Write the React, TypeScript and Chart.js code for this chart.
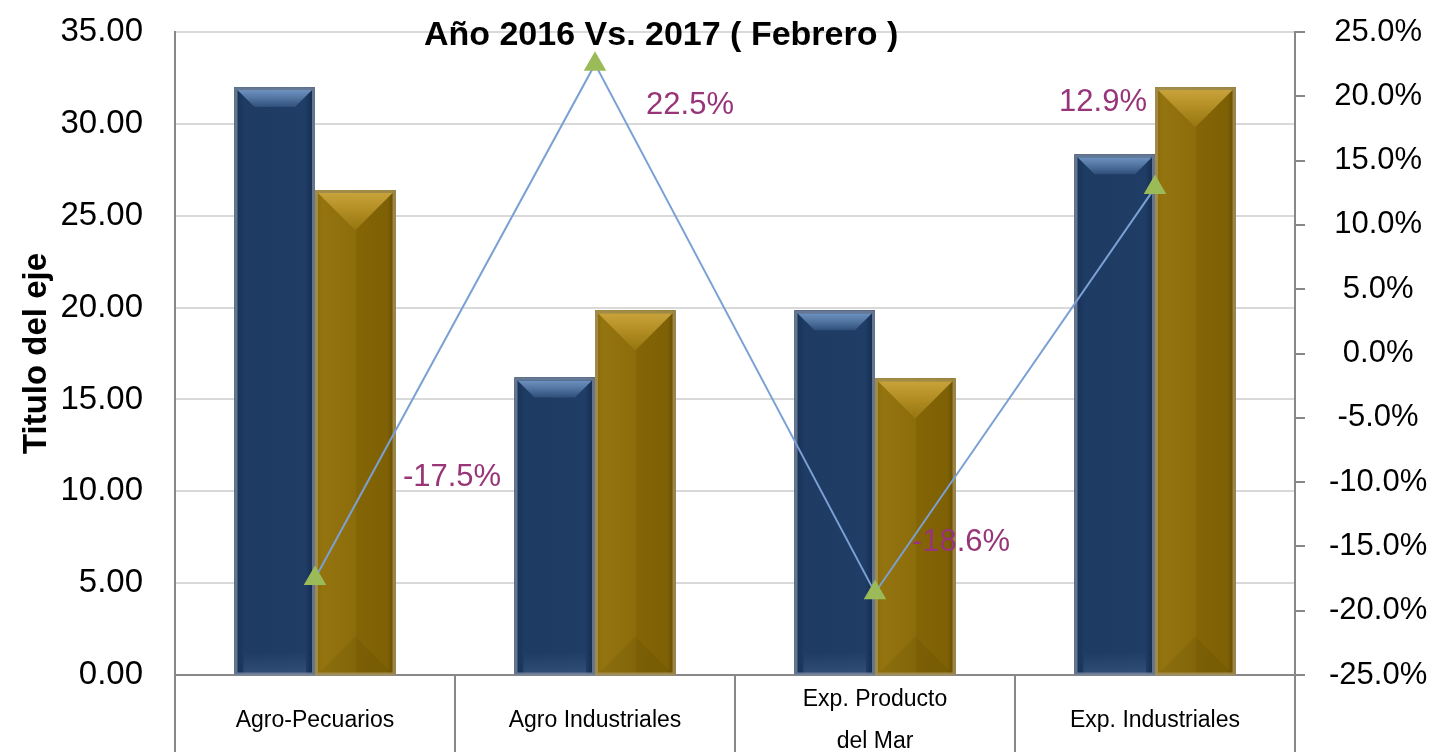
import React, { useEffect, useRef } from "react";
import { Chart, registerables } from "chart.js";

Chart.register(...registerables);

const categories: (string | string[])[] = [
  "Agro-Pecuarios",
  "Agro Industriales",
  ["Exp. Producto", "del Mar"],
  "Exp. Industriales",
];
const values2016 = [32.0, 16.2, 19.85, 28.35];
const values2017 = [26.4, 19.85, 16.15, 32.0];
const variation = [-17.5, 22.5, -18.6, 12.9];
const variationLabels = ["-17.5%", "22.5%", "-18.6%", "12.9%"];
const titleText = "Año 2016 Vs. 2017 ( Febrero )";
const yTitle = "Titulo del eje";

// style: label offsets (px) from each point, like manually placed labels
const labelOffsets = [
  [137, -101],
  [95, 41],
  [86, -50],
  [-52, -85],
];

const FONT = "'Liberation Sans', Arial, sans-serif";

const bevelPlugin = {
  id: "bevel",
  afterDatasetDraw(chart: any, args: any) {
    const meta = args.meta;
    if (meta.type !== "bar") return;
    const ctx = chart.ctx as CanvasRenderingContext2D;
    const isBlue = meta.index === 1;
    ctx.save();
    meta.data.forEach((el: any) => {
      const { x, y, base, width } = el.getProps(["x", "y", "base", "width"], true);
      const l = x - width / 2;
      const r = x + width / 2;
      const t = y;
      const b = base;
      const h = b - t;
      const g = ctx.createLinearGradient(l, 0, r, 0);
      if (isBlue) {
        g.addColorStop(0, "#172f52");
        g.addColorStop(0.12, "#1e3b63");
        g.addColorStop(0.88, "#1f3d66");
        g.addColorStop(1, "#132746");
      } else {
        g.addColorStop(0, "#8a6b0a");
        g.addColorStop(0.1, "#93740f");
        g.addColorStop(0.5, "#8c6d0b");
        g.addColorStop(0.52, "#846506");
        g.addColorStop(0.9, "#7e6105");
        g.addColorStop(1, "#5f4803");
      }
      ctx.fillStyle = g;
      ctx.fillRect(l, t, width, h);
      const bw = 3;
      if (isBlue) {
        const bev = Math.min(17, h / 2);
        const vg = ctx.createLinearGradient(0, t + bw, 0, t + bw + bev);
        vg.addColorStop(0, "#6e92c1");
        vg.addColorStop(0.5, "#50739f");
        vg.addColorStop(1, "#2f4f7a");
        ctx.fillStyle = vg;
        ctx.beginPath();
        ctx.moveTo(l + bw, t + bw);
        ctx.lineTo(r - bw, t + bw);
        ctx.lineTo(r - bw - bev, t + bw + bev);
        ctx.lineTo(l + bw + bev, t + bw + bev);
        ctx.closePath();
        ctx.fill();
        const bg = ctx.createLinearGradient(0, b - 22, 0, b);
        bg.addColorStop(0, "rgba(80,110,150,0)");
        bg.addColorStop(1, "rgba(80,110,150,0.35)");
        ctx.fillStyle = bg;
        ctx.fillRect(l + bw + 6, b - 22, width - 2 * bw - 12, 22);
      } else {
        const dep = Math.min(width / 2 - bw, h / 2);
        const vg = ctx.createLinearGradient(0, t + bw, 0, t + bw + dep);
        vg.addColorStop(0, "#c8a33b");
        vg.addColorStop(0.5, "#b08c22");
        vg.addColorStop(1, "#967610");
        ctx.fillStyle = vg;
        ctx.beginPath();
        ctx.moveTo(l + bw, t + bw);
        ctx.lineTo(r - bw, t + bw);
        ctx.lineTo(x, t + bw + dep);
        ctx.closePath();
        ctx.fill();
        ctx.fillStyle = "rgba(60,45,0,0.1)";
        ctx.beginPath();
        ctx.moveTo(l + bw, b);
        ctx.lineTo(r - bw, b);
        ctx.lineTo(x, b - dep);
        ctx.closePath();
        ctx.fill();
      }
      ctx.lineWidth = 3;
      ctx.strokeStyle = isBlue ? "rgba(115,130,155,0.85)" : "rgba(165,145,85,0.85)";
      ctx.strokeRect(l + 1.5, t + 1.5, width - 3, h - 1.5);
    });
    ctx.restore();
  },
};

const textPlugin = {
  id: "texts",
  afterDraw(chart: any) {
    const ctx = chart.ctx as CanvasRenderingContext2D;
    const area = chart.chartArea;
    ctx.save();
    ctx.fillStyle = "#000";
    ctx.font = `bold 34px ${FONT}`;
    ctx.textAlign = "center";
    ctx.textBaseline = "middle";
    ctx.fillText(titleText, area.left + area.width * 0.434, 36);
    const meta = chart.getDatasetMeta(0);
    ctx.font = `31px ${FONT}`;
    ctx.fillStyle = "#983579";
    meta.data.forEach((pt: any, i: number) => {
      const [dx, dy] = labelOffsets[i];
      ctx.fillText(variationLabels[i], pt.x + dx, pt.y + dy);
    });
    ctx.restore();
  },
};

export default function App() {
  const ref = useRef<HTMLCanvasElement>(null);
  useEffect(() => {
    document.body.style.margin = "0";
    const chart = new Chart(ref.current as HTMLCanvasElement, {
      type: "bar",
      data: {
        labels: categories,
        datasets: [
          {
            type: "line",
            label: "Variación",
            data: variation,
            yAxisID: "y1",
            borderColor: "#7aa0d4",
            borderWidth: 2,
            pointStyle: "triangle",
            pointRadius: 13,
            pointBackgroundColor: "#9bbb59",
            pointBorderColor: "#9bbb59",
            pointBorderWidth: 0,
            tension: 0,
            order: 0,
          } as any,
          {
            label: "2016",
            data: values2016,
            backgroundColor: "#1f3d66",
            borderWidth: 0,
            yAxisID: "y",
            order: 1,
            categoryPercentage: 0.575,
            barPercentage: 1,
          },
          {
            label: "2017",
            data: values2017,
            backgroundColor: "#8a6b08",
            borderWidth: 0,
            yAxisID: "y",
            order: 1,
            categoryPercentage: 0.575,
            barPercentage: 1,
          },
        ],
      },
      options: {
        animation: false,
        responsive: false,
        devicePixelRatio: 1,
        layout: { padding: { top: 32, left: 0, right: 0, bottom: 0 } },
        plugins: {
          legend: { display: false },
          title: { display: false },
          tooltip: { enabled: false },
        },
        scales: {
          x: {
            offset: true,
            grid: {
              offset: true,
              drawOnChartArea: false,
              tickLength: 77,
              color: "#888888",
              lineWidth: 2,
            },
            border: { color: "#888888", width: 2 },
            ticks: {
              padding: -52,
              crossAlign: "center",
              maxRotation: 0,
              autoSkip: false,
              color: "#000",
              font: { family: FONT, size: 23, lineHeight: 1.8 },
            },
            afterFit: (s: any) => {
              s.height = 77;
              s.paddingLeft = 0;
              s.paddingRight = 0;
            },
          },
          y: {
            position: "left",
            min: 0,
            max: 35,
            ticks: {
              stepSize: 5,
              padding: 32,
              color: "#000",
              font: { family: FONT, size: 33 },
              callback: (v: any) => Number(v).toFixed(2),
            },
            grid: { color: "#d9d9d9", lineWidth: 2, drawTicks: false },
            border: { color: "#888888", width: 2 },
            title: {
              display: true,
              text: yTitle,
              color: "#000",
              font: { family: FONT, size: 33, weight: "bold" },
              padding: { top: 17, bottom: 0 },
            },
            afterFit: (s: any) => {
              s.width = 175;
              s.paddingTop = 0;
              s.paddingBottom = 0;
            },
          },
          y1: {
            position: "right",
            min: -25,
            max: 25,
            ticks: {
              stepSize: 5,
              padding: 24,
              crossAlign: "center",
              color: "#000",
              font: { family: FONT, size: 31 },
              callback: (v: any) => `${Number(v).toFixed(1)}%`,
            },
            grid: {
              drawOnChartArea: false,
              tickLength: 10,
              color: "#888888",
              lineWidth: 2,
            },
            border: { color: "#888888", width: 2 },
            afterFit: (s: any) => {
              s.width = 140;
              s.paddingTop = 0;
              s.paddingBottom = 0;
            },
          },
        },
      },
      plugins: [bevelPlugin, textPlugin],
    } as any);
    return () => chart.destroy();
  }, []);
  return (
    <div style={{ width: 1435, height: 752 }}>
      <canvas ref={ref} width={1435} height={752} style={{ display: "block" }} />
    </div>
  );
}
